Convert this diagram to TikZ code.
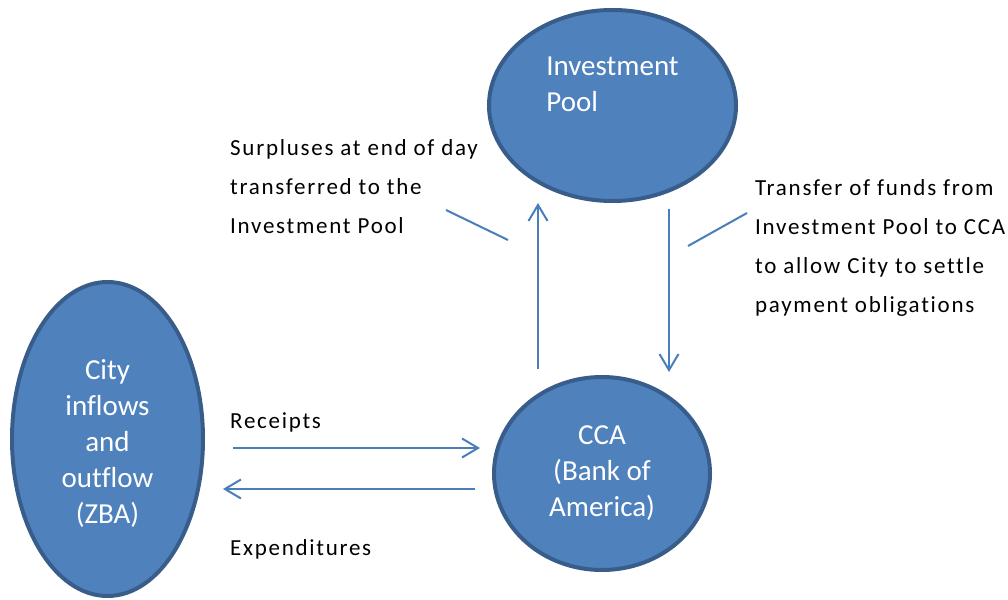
\documentclass[tikz,border=0pt]{standalone}
\usepackage{fontspec}
\setmainfont[Ligatures=NoCommon]{Carlito}
\newfontfamily\notefont[LetterSpace=7.5,Ligatures=NoCommon]{Carlito}
\usepackage{xcolor}
\usepackage{tikz}
\usetikzlibrary{shapes.geometric,arrows.meta}

\definecolor{bubblefill}{HTML}{4F81BD}
\definecolor{bubbleedge}{HTML}{385D8A}
\definecolor{flowline}{HTML}{4A7EBB}

\tikzset{
  bubble/.style={ellipse, inner sep=0pt, fill=bubblefill, draw=bubbleedge, line width=4pt, text=white, align=center, font=\fontsize{29}{36}\selectfont},
  bubbletext/.style={inner sep=0pt, text=white, font=\fontsize{29}{36}\selectfont},
  note/.style={inner sep=0pt, anchor=base west, align=left, font=\notefont\fontsize{23}{39}\selectfont},
  flow/.style={draw=flowline, line width=2pt, -{Straight Barb[length=16pt,width=19pt]}},
  leader/.style={draw=flowline, line width=2pt}
}

\begin{document}
\begin{tikzpicture}[x=1pt,y=-1pt]
\useasboundingbox (0,0) rectangle (1008,599);

\node (pool) [bubble, minimum width=247pt, minimum height=191pt] at (612.5,105.5) {};
\node (pooltext) [bubbletext, align=left] at ([yshift=21pt]pool.center) {Investment\\Pool};
\node (city) [bubble, minimum width=191pt, minimum height=314pt] at (107.5,439) {};
\node (citytext) [bubbletext, align=center] at ([yshift=-5pt]city.center) {City\\inflows\\and\\outflow\\(ZBA)};
\node (cca) [bubble, minimum width=216pt, minimum height=193pt] at (602,473.5) {CCA\\(Bank of\\America)};

% base of a multi-line note is its last line
\node (surplus) [note] at (230,233) {Surpluses at end of day\\transferred to the\\Investment Pool};
\node (transfer) [note] at (755,312) {Transfer of funds from\\Investment Pool to CCA\\to allow City to settle\\payment obligations};
\node (receipts) [note] at (230,428) {Receipts};
\node (expend) [note] at (230,555) {Expenditures};

\coordinate (uplane) at (538,0);
\coordinate (downlane) at (669,0);
\coordinate (rline) at (0,448);
\coordinate (eline) at (0,489);

\draw[flow] ([yshift=6pt]cca.north -| uplane) -- ([yshift=0pt]pool.south -| uplane);
\draw[flow] ([yshift=-6pt]pool.south -| downlane) -- ([yshift=3pt]cca.north -| downlane);
\draw[flow] ([xshift=28pt]city.east |- rline) -- ([xshift=-12pt]cca.west |- rline);
\draw[flow] ([xshift=-17pt]cca.west |- eline) -- ([xshift=18pt]city.east |- eline);

% pointers from the notes to the arrows
\coordinate (sfrom) at (446,210);
\coordinate (sto) at (508,240);
\coordinate (tfrom) at (747,213);
\coordinate (tto) at (688,246);
\draw[leader] (sfrom) -- (sto);
\draw[leader] (tfrom) -- (tto);

\end{tikzpicture}
\end{document}
